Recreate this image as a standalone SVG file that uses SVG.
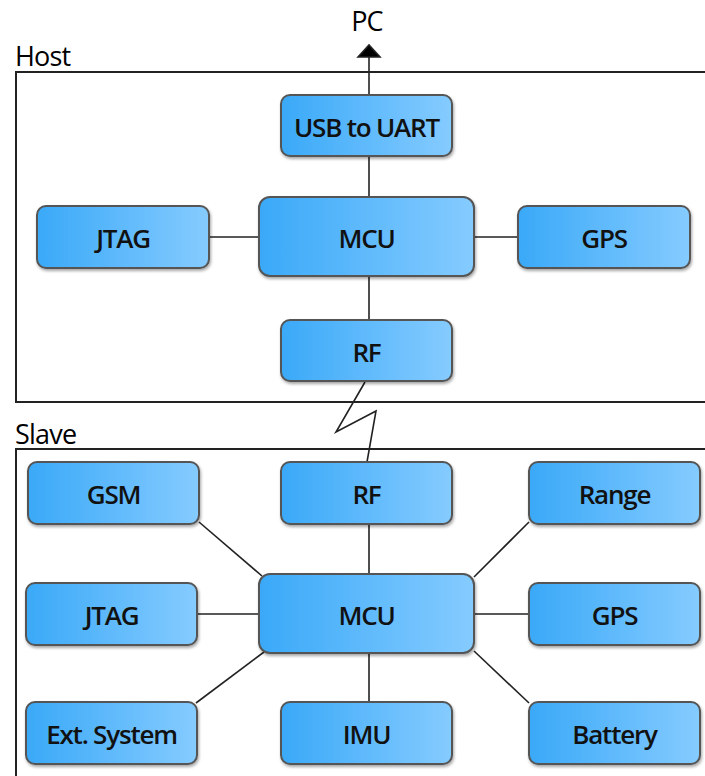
<svg xmlns="http://www.w3.org/2000/svg" width="705" height="776" viewBox="0 0 705 776">
<defs>
<linearGradient id="g" x1="0" y1="0" x2="1" y2="0">
<stop offset="0" stop-color="#3aa9f8"/>
<stop offset="1" stop-color="#85cbff"/>
</linearGradient>
<filter id="sh" x="-10%" y="-10%" width="120%" height="130%">
<feDropShadow dx="1" dy="2" stdDeviation="1.5" flood-color="#000" flood-opacity="0.35"/>
</filter>
</defs>
<style>
.n rect{fill:url(#g);stroke:#555;stroke-width:2;filter:url(#sh)}
.n text{font-family:"Open Sans","DejaVu Sans",sans-serif;font-size:26px;font-weight:600;letter-spacing:-1.2px;fill:#111;text-anchor:middle;dominant-baseline:central}
.lbl{font-family:"Open Sans","DejaVu Sans",sans-serif;font-size:27px;letter-spacing:-0.8px;fill:#000}
.c line,.c path{stroke:#222;stroke-width:1.6;fill:none}
.frame{fill:none;stroke:#222;stroke-width:2}
</style>
<rect width="705" height="776" fill="#fff"/>
<text class="lbl" x="15" y="66">Host</text>
<text class="lbl" x="15" y="444">Slave</text>
<text class="lbl" x="367" y="31" text-anchor="middle">PC</text>
<rect class="frame" x="16" y="72" width="700" height="330"/>
<rect class="frame" x="16" y="449" width="700" height="340"/>
<g class="c" id="connectors">
<line x1="369" y1="95" x2="369" y2="55"/>
<path d="M358,57 L369,45 L380,57 Z" fill="#000" stroke="none" style="fill:#000"/>
<line x1="369" y1="156" x2="369" y2="198"/>
<line x1="209" y1="237" x2="259" y2="237"/>
<line x1="474" y1="237" x2="518" y2="237"/>
<line x1="369" y1="276" x2="369" y2="320"/>
<path d="M365,382 L336,432 L376,411 L367,462"/>
<line x1="369" y1="524" x2="369" y2="575"/>
<line x1="199" y1="522" x2="262" y2="576"/>
<line x1="529" y1="522" x2="474" y2="577"/>
<line x1="197" y1="614" x2="259" y2="614"/>
<line x1="474" y1="614" x2="529" y2="614"/>
<line x1="196" y1="703" x2="264" y2="652"/>
<line x1="529" y1="703" x2="474" y2="651"/>
<line x1="369" y1="653" x2="369" y2="702"/>
</g>
<g class="n" id="host_usb"><rect x="281" y="95" width="171" height="61" rx="9"/><text x="366.5" y="127">USB to UART</text></g>
<g class="n" id="host_jtag"><rect x="37" y="206" width="172" height="62" rx="9"/><text x="123" y="238">JTAG</text></g>
<g class="n" id="host_mcu"><rect x="259" y="197" width="215" height="79" rx="11"/><text x="366.5" y="238">MCU</text></g>
<g class="n" id="host_gps"><rect x="518" y="206" width="172" height="62" rx="9"/><text x="604" y="238">GPS</text></g>
<g class="n" id="host_rf"><rect x="281" y="320" width="171" height="61" rx="9"/><text x="366.5" y="352">RF</text></g>
<g class="n" id="slave_gsm"><rect x="28" y="462" width="171" height="62" rx="9"/><text x="113.5" y="494">GSM</text></g>
<g class="n" id="slave_rf"><rect x="281" y="462" width="171" height="62" rx="9"/><text x="366.5" y="494">RF</text></g>
<g class="n" id="slave_range"><rect x="529" y="462" width="171" height="62" rx="9"/><text x="614.5" y="494">Range</text></g>
<g class="n" id="slave_jtag"><rect x="26" y="583" width="171" height="62" rx="9"/><text x="111.5" y="615">JTAG</text></g>
<g class="n" id="slave_mcu"><rect x="259" y="574" width="215" height="79" rx="11"/><text x="366.5" y="615">MCU</text></g>
<g class="n" id="slave_gps"><rect x="529" y="583" width="171" height="62" rx="9"/><text x="614.5" y="615">GPS</text></g>
<g class="n" id="slave_ext"><rect x="26" y="702" width="171" height="62" rx="9"/><text x="111.5" y="734">Ext. System</text></g>
<g class="n" id="slave_imu"><rect x="281" y="702" width="171" height="62" rx="9"/><text x="366.5" y="734">IMU</text></g>
<g class="n" id="slave_battery"><rect x="529" y="702" width="171" height="62" rx="9"/><text x="614.5" y="734">Battery</text></g>
</svg>
